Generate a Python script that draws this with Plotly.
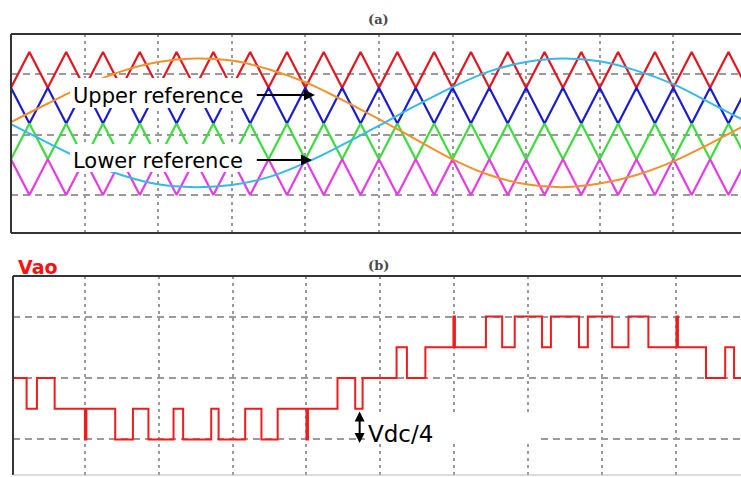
import plotly.graph_objects as go

# ---------------- data (time in grid divisions) ----------------
ref_t = [0.0, 0.5, 1.0, 1.5, 2.0, 2.5, 3.0, 3.5, 4.0, 4.5, 5.0,
         5.5, 6.0, 6.5, 7.0, 7.5, 8.0, 8.5, 9.0, 9.5, 10.0]
upper_ref = [0.02, 0.28, 0.53, 0.73, 0.86, 0.91, 0.88, 0.76, 0.58, 0.33, 0.06,
             -0.22, -0.50, -0.72, -0.85, -0.89, -0.84, -0.72, -0.53, -0.28, -0.01]
lower_ref = [-0.01, -0.27, -0.52, -0.72, -0.85, -0.89, -0.86, -0.75, -0.55, -0.30, -0.03,
             0.25, 0.51, 0.73, 0.86, 0.91, 0.87, 0.74, 0.55, 0.29, 0.02]

carrier_cycles = 20
carrier_span = 10.0
carrier_low = [0.5, 0.0, -0.5, -1.0]
carrier_high = [1.0, 0.5, 0.0, -0.5]
carrier_start_high = [False, True, False, True]
carrier_colors = ["#e3171e", "#1c1cd2", "#3ddc3d", "#e83be8"]

vao_t = [0.0, 0.21, 0.35, 0.59, 1.00, 1.02, 1.41, 1.65, 1.86, 2.20, 2.33, 2.71, 2.81,
         3.17, 3.39, 3.61, 4.00, 4.02, 4.42, 4.66, 4.76, 5.22, 5.36, 5.61, 5.99, 6.01,
         6.43, 6.65, 6.82, 7.19, 7.31, 7.69, 7.81, 8.14, 8.36, 8.63, 9.01, 9.03, 9.41,
         9.67, 9.79, 10.0]
vao_level = [0, -1, 0, -1, -2, -1, -2, -1, -2, -1, -2, -1, -2,
             -1, -2, -1, -2, -1, 0, -1, 0, 1, 0, 1, 2, 1,
             2, 1, 2, 1, 2, 1, 2, 1, 2, 1, 2, 1, 0,
             1, 0, 0]

# ---------------- figure ----------------
W, H = 741, 477


def px(x):
    return x / W


def py(y):
    return 1 - y / H


fig = go.Figure()

n_vert = 2 * carrier_cycles + 1
vert_t = [i * carrier_span / (2 * carrier_cycles) for i in range(n_vert)]
for lo, hi, sh, col in zip(carrier_low, carrier_high, carrier_start_high, carrier_colors):
    ys = []
    for i in range(n_vert):
        high = (i % 2 == 0) == sh
        ys.append(hi if high else lo)
    fig.add_trace(go.Scatter(x=vert_t, y=ys, mode="lines",
                             line=dict(color=col, width=2.2), xaxis="x", yaxis="y"))

fig.add_trace(go.Scatter(x=ref_t, y=upper_ref, mode="lines",
                         line=dict(color="#f5902a", width=2, shape="spline"),
                         xaxis="x", yaxis="y"))
fig.add_trace(go.Scatter(x=ref_t, y=lower_ref, mode="lines",
                         line=dict(color="#35b8ee", width=2, shape="spline"),
                         xaxis="x", yaxis="y"))

fig.add_trace(go.Scatter(x=vao_t, y=vao_level, mode="lines",
                         line=dict(color="#ee1c1c", width=2, shape="hv"),
                         xaxis="x2", yaxis="y2"))

grid_col = "#9a9a9a"
common = dict(showticklabels=False, zeroline=False, showline=False, ticks="",
              gridcolor=grid_col, gridwidth=2)

fig.update_layout(
    width=W, height=H,
    margin=dict(l=0, r=0, t=0, b=0),
    paper_bgcolor="white", plot_bgcolor="white",
    showlegend=False,
    xaxis=dict(domain=[px(11), 1], range=[0, 9.92], tick0=0, dtick=1,
               griddash="3px,4px", **common),
    yaxis=dict(domain=[py(233), py(34)], range=[-1.531, 1.252], tick0=-1, dtick=0.846,
               griddash="7px,5px", **common),
    xaxis2=dict(domain=[px(13), 1], range=[0.026, 9.884], tick0=0, dtick=1,
                griddash="3px,4px", anchor="y2", **common),
    yaxis2=dict(domain=[py(475), py(276)], range=[-3.16, 3.32], tick0=0, dtick=2,
                griddash="7px,5px", anchor="x2", **common),
)

shapes = []
dark = "#353535"
# panel (a) frame
shapes += [
    dict(type="line", xref="x domain", yref="y domain", x0=0, x1=0, y0=0, y1=1,
         line=dict(color=dark, width=2)),
    dict(type="line", xref="x domain", yref="y domain", x0=0, x1=1, y0=1, y1=1,
         line=dict(color=dark, width=2)),
    dict(type="line", xref="x domain", yref="y domain", x0=0, x1=1, y0=0, y1=0,
         line=dict(color=dark, width=2)),
]
# panel (b) frame
shapes += [
    dict(type="line", xref="x2 domain", yref="y2 domain", x0=0, x1=0, y0=0, y1=1,
         line=dict(color=dark, width=2)),
    dict(type="line", xref="x2 domain", yref="y2 domain", x0=0, x1=1, y0=1, y1=1,
         line=dict(color=dark, width=2)),
    dict(type="line", xref="x2 domain", yref="y2 domain", x0=0, x1=1, y0=0, y1=0,
         line=dict(color="#b8b8b8", width=1)),
]
# white label boxes
for (x0, x1, y0, y1) in [(70, 250, 78, 108), (70, 250, 144, 172), (365, 540, 415, 444)]:
    shapes.append(dict(type="rect", xref="paper", yref="paper",
                       x0=px(x0), x1=px(x1), y0=py(y1), y1=py(y0),
                       fillcolor="white", line=dict(width=0), layer="above"))
fig.update_layout(shapes=shapes)

ann = []
txt_font = dict(family="DejaVu Sans", size=21, color="black")
ann.append(dict(text="Upper reference", xref="paper", yref="paper", x=px(71), y=py(96),
                xanchor="left", yanchor="middle", showarrow=False, font=txt_font))
ann.append(dict(text="Lower reference", xref="paper", yref="paper", x=px(71), y=py(161),
                xanchor="left", yanchor="middle", showarrow=False, font=txt_font))
# arrows
for head_t, head_y, tail_t in [(4.13, 0.40, 3.32), (4.09, -0.51, 3.32)]:
    ann.append(dict(text="", xref="x", yref="y", x=head_t, y=head_y,
                    axref="x", ayref="y", ax=tail_t, ay=head_y,
                    showarrow=True, arrowhead=2, arrowsize=1.1, arrowwidth=2,
                    arrowcolor="black", standoff=0, startstandoff=0))
ann.append(dict(text="", xref="x2", yref="y2", x=4.72, y=-2.12,
                axref="x2", ayref="y2", ax=4.72, ay=-1.04,
                showarrow=True, arrowhead=2, arrowsize=1.0, arrowwidth=2,
                arrowside="end+start", arrowcolor="black", standoff=0, startstandoff=0))
ann.append(dict(text="Vdc/4", xref="paper", yref="paper", x=px(366), y=py(434),
                xanchor="left", yanchor="middle", showarrow=False,
                font=dict(family="DejaVu Sans", size=23, color="black")))
ann.append(dict(text="<b>Vao</b>", xref="paper", yref="paper", x=px(16), y=py(267),
                xanchor="left", yanchor="middle", showarrow=False,
                font=dict(family="DejaVu Sans", size=19, color="#ff1010")))
ann.append(dict(text="<b>(a)</b>", xref="paper", yref="paper", x=px(378), y=py(19),
                xanchor="center", yanchor="middle", showarrow=False,
                font=dict(family="DejaVu Serif", size=13, color="#4a4a4a")))
ann.append(dict(text="<b>(b)</b>", xref="paper", yref="paper", x=px(378), y=py(265),
                xanchor="center", yanchor="middle", showarrow=False,
                font=dict(family="DejaVu Serif", size=13, color="#4a4a4a")))
fig.update_layout(annotations=ann)

fig.write_html("out.html", config=dict(displayModeBar=False),
               post_script="document.body.style.margin='0';document.body.style.overflow='hidden';")
